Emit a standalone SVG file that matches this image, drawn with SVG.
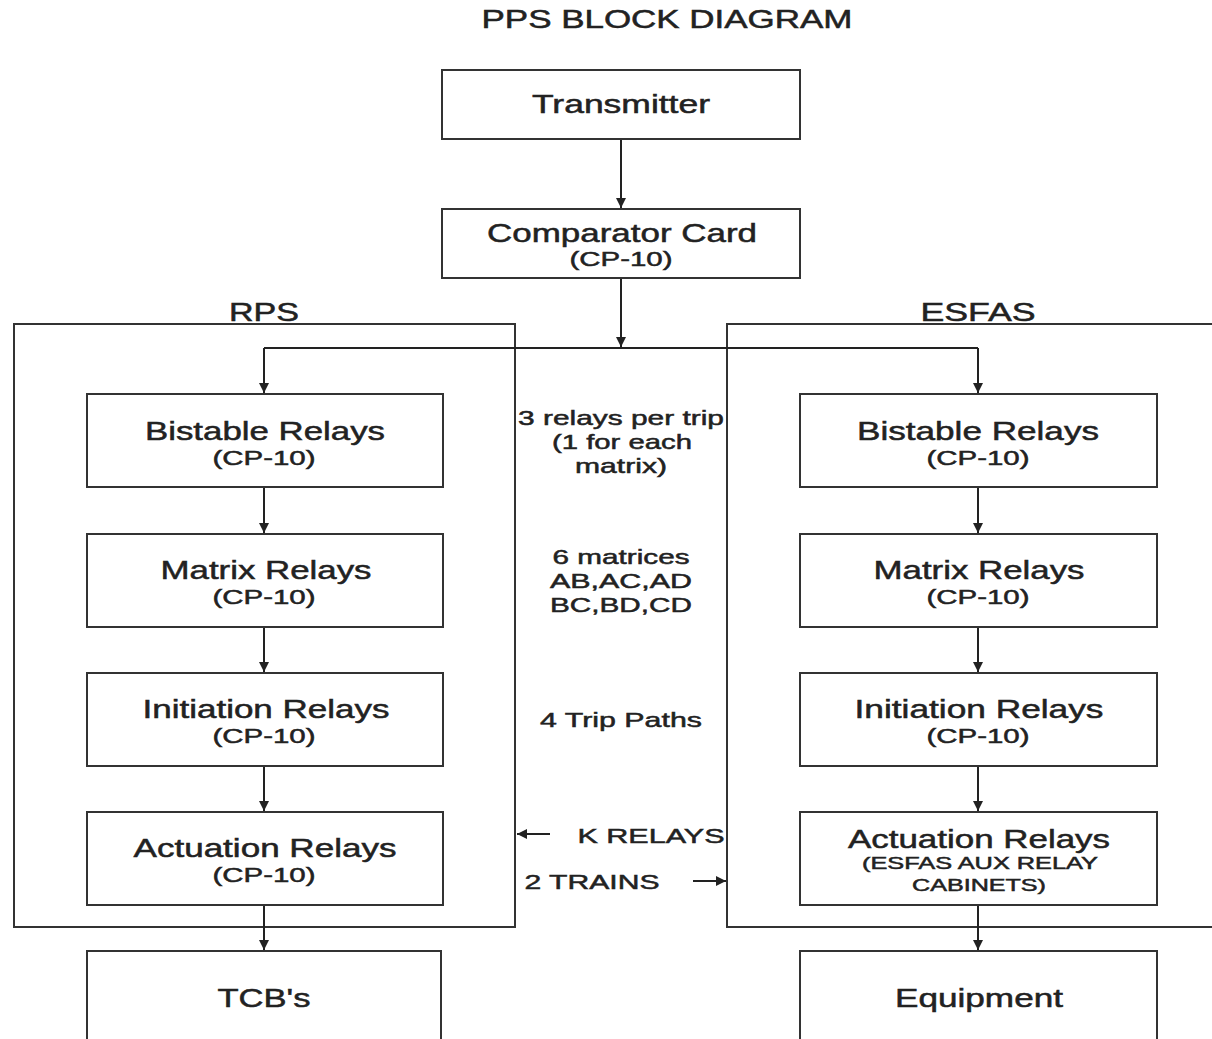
<svg xmlns="http://www.w3.org/2000/svg" width="1212" height="1039" viewBox="0 0 1212 1039">
<style>
text{font-family:"Liberation Sans",Arial,sans-serif;fill:#222;text-anchor:middle;stroke:#222;stroke-width:0.5}
.t{font-size:26px}
.s{font-size:21px}
.m{font-size:21px}
.h{font-size:25px}
.box{fill:#fff;stroke:#333;stroke-width:2}
.ln{fill:none;stroke:#222;stroke-width:2}
</style>
<defs>
<marker id="ah" viewBox="0 0 10 10" refX="10" refY="5" markerWidth="5" markerHeight="5" orient="auto" markerUnits="strokeWidth">
<path d="M0,0 L10,5 L0,10 z" fill="#222"/>
</marker>
</defs>
<rect width="1212" height="1039" fill="#fff"/>
<text class="h" x="667" y="28" textLength="371" lengthAdjust="spacingAndGlyphs">PPS BLOCK DIAGRAM</text>

<g id="rps">
<rect x="14" y="324" width="501" height="603" style="fill:none;stroke:#333;stroke-width:2"/>
<text class="h" x="264" y="321" textLength="70" lengthAdjust="spacingAndGlyphs">RPS</text>
</g>
<g id="esfas">
<path d="M1213,324 H727 V927 H1213" style="fill:none;stroke:#333;stroke-width:2"/>
<text class="h" x="978" y="321" textLength="115" lengthAdjust="spacingAndGlyphs">ESFAS</text>
</g>

<g id="connectors">
<line class="ln" x1="621" y1="139" x2="621" y2="208" marker-end="url(#ah)"/>
<line class="ln" x1="621" y1="278" x2="621" y2="347" marker-end="url(#ah)"/>
<path class="ln" d="M264,348 H978"/>
<line class="ln" x1="264" y1="348" x2="264" y2="393" marker-end="url(#ah)"/>
<line class="ln" x1="978" y1="348" x2="978" y2="393" marker-end="url(#ah)"/>
<line class="ln" x1="264" y1="487" x2="264" y2="533" marker-end="url(#ah)"/>
<line class="ln" x1="264" y1="627" x2="264" y2="672" marker-end="url(#ah)"/>
<line class="ln" x1="264" y1="766" x2="264" y2="811" marker-end="url(#ah)"/>
<line class="ln" x1="264" y1="905" x2="264" y2="950" marker-end="url(#ah)"/>
<line class="ln" x1="978" y1="487" x2="978" y2="533" marker-end="url(#ah)"/>
<line class="ln" x1="978" y1="627" x2="978" y2="672" marker-end="url(#ah)"/>
<line class="ln" x1="978" y1="766" x2="978" y2="811" marker-end="url(#ah)"/>
<line class="ln" x1="978" y1="905" x2="978" y2="950" marker-end="url(#ah)"/>
<line class="ln" x1="550" y1="834" x2="517" y2="834" marker-end="url(#ah)"/>
<line class="ln" x1="693" y1="881" x2="726" y2="881" marker-end="url(#ah)"/>
</g>

<g id="transmitter">
<rect class="box" x="442" y="70" width="358" height="69"/>
<text class="t" x="621" y="113" textLength="178" lengthAdjust="spacingAndGlyphs">Transmitter</text>
</g>
<g id="comparator">
<rect class="box" x="442" y="209" width="358" height="69"/>
<text class="t" x="622" y="242" textLength="270" lengthAdjust="spacingAndGlyphs">Comparator Card</text>
<text class="s" x="621" y="266" textLength="103" lengthAdjust="spacingAndGlyphs">(CP-10)</text>
</g>

<g id="rps-bistable">
<rect class="box" x="87" y="394" width="356" height="93"/>
<text class="t" x="265" y="440" textLength="240" lengthAdjust="spacingAndGlyphs">Bistable Relays</text>
<text class="s" x="264" y="465" textLength="103" lengthAdjust="spacingAndGlyphs">(CP-10)</text>
</g>
<g id="rps-matrix">
<rect class="box" x="87" y="534" width="356" height="93"/>
<text class="t" x="266" y="579" textLength="211" lengthAdjust="spacingAndGlyphs">Matrix Relays</text>
<text class="s" x="264" y="604" textLength="103" lengthAdjust="spacingAndGlyphs">(CP-10)</text>
</g>
<g id="rps-initiation">
<rect class="box" x="87" y="673" width="356" height="93"/>
<text class="t" x="266" y="718" textLength="247" lengthAdjust="spacingAndGlyphs">Initiation Relays</text>
<text class="s" x="264" y="743" textLength="103" lengthAdjust="spacingAndGlyphs">(CP-10)</text>
</g>
<g id="rps-actuation">
<rect class="box" x="87" y="812" width="356" height="93"/>
<text class="t" x="265" y="857" textLength="263" lengthAdjust="spacingAndGlyphs">Actuation Relays</text>
<text class="s" x="264" y="882" textLength="103" lengthAdjust="spacingAndGlyphs">(CP-10)</text>
</g>
<g id="tcbs">
<rect class="box" x="87" y="951" width="354" height="100"/>
<text class="t" x="264" y="1007" textLength="93" lengthAdjust="spacingAndGlyphs">TCB's</text>
</g>

<g id="esfas-bistable">
<rect class="box" x="800" y="394" width="357" height="93"/>
<text class="t" x="978" y="440" textLength="242" lengthAdjust="spacingAndGlyphs">Bistable Relays</text>
<text class="s" x="978" y="465" textLength="103" lengthAdjust="spacingAndGlyphs">(CP-10)</text>
</g>
<g id="esfas-matrix">
<rect class="box" x="800" y="534" width="357" height="93"/>
<text class="t" x="979" y="579" textLength="211" lengthAdjust="spacingAndGlyphs">Matrix Relays</text>
<text class="s" x="978" y="604" textLength="103" lengthAdjust="spacingAndGlyphs">(CP-10)</text>
</g>
<g id="esfas-initiation">
<rect class="box" x="800" y="673" width="357" height="93"/>
<text class="t" x="979" y="718" textLength="249" lengthAdjust="spacingAndGlyphs">Initiation Relays</text>
<text class="s" x="978" y="743" textLength="103" lengthAdjust="spacingAndGlyphs">(CP-10)</text>
</g>
<g id="esfas-actuation">
<rect class="box" x="800" y="812" width="357" height="93"/>
<text class="t" x="979" y="848" textLength="262" lengthAdjust="spacingAndGlyphs">Actuation Relays</text>
<text class="s" x="980" y="869" style="font-size:17px" textLength="236" lengthAdjust="spacingAndGlyphs">(ESFAS AUX RELAY</text>
<text class="s" x="979" y="891" style="font-size:17px" textLength="134" lengthAdjust="spacingAndGlyphs">CABINETS)</text>
</g>
<g id="equipment">
<rect class="box" x="800" y="951" width="357" height="100"/>
<text class="t" x="979" y="1007" textLength="168" lengthAdjust="spacingAndGlyphs">Equipment</text>
</g>

<g id="notes">
<text class="m" x="621" y="425" textLength="206" lengthAdjust="spacingAndGlyphs">3 relays per trip</text>
<text class="m" x="622" y="449" textLength="140" lengthAdjust="spacingAndGlyphs">(1 for each</text>
<text class="m" x="621" y="473" textLength="92" lengthAdjust="spacingAndGlyphs">matrix)</text>
<text class="m" x="621" y="564" textLength="137" lengthAdjust="spacingAndGlyphs">6 matrices</text>
<text class="m" x="621" y="588" textLength="142" lengthAdjust="spacingAndGlyphs">AB,AC,AD</text>
<text class="m" x="621" y="612" textLength="142" lengthAdjust="spacingAndGlyphs">BC,BD,CD</text>
<text class="m" x="621" y="727" textLength="162" lengthAdjust="spacingAndGlyphs">4 Trip Paths</text>
<text class="m" x="651" y="843" textLength="147" lengthAdjust="spacingAndGlyphs">K RELAYS</text>
<text class="m" x="592" y="889" textLength="135" lengthAdjust="spacingAndGlyphs">2 TRAINS</text>
</g>
</svg>
